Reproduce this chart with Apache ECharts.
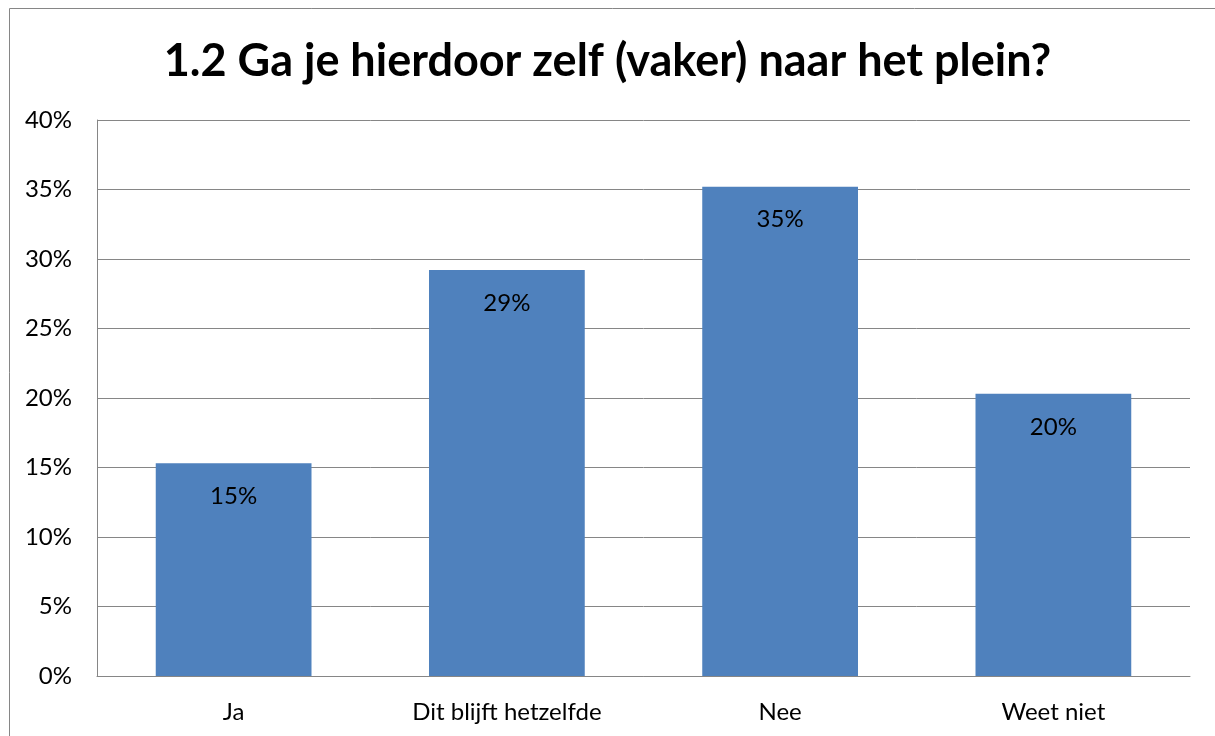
<!DOCTYPE html>
<html>
<head>
<meta charset="utf-8">
<script src="https://cdn.jsdelivr.net/npm/echarts@6/dist/echarts.min.js"></script>
<style>
html,body{margin:0;padding:0;background:#fff;}
#c{width:1215px;height:736px;}
</style>
</head>
<body>
<div id="c"></div>
<script>
const titleText = "1.2 Ga je hierdoor zelf (vaker) naar het plein?";
const categories = ["Ja", "Dit blijft hetzelfde", "Nee", "Weet niet"];
const values = [15.3, 29.2, 35.2, 20.3];
const yTicks = [0, 5, 10, 15, 20, 25, 30, 35, 40];

const chart = echarts.init(document.getElementById('c'), null, {renderer: 'canvas'});
const font = 'Lato, "Open Sans", sans-serif';
chart.setOption({
  animation: false,
  title: {
    text: titleText,
    left: 'center',
    top: 34,
    textStyle: {fontFamily: font, fontWeight: 'bold', fontSize: 45, color: '#000'}
  },
  graphic: [{
    type: 'rect',
    shape: {x: 9.5, y: 8.5, width: 1220, height: 740},
    style: {fill: 'none', stroke: '#868686', lineWidth: 1},
    silent: true
  }],
  grid: {left: 97, right: 25, top: 120, bottom: 60, containLabel: false},
  xAxis: {
    type: 'category',
    data: categories,
    axisLine: {show: true, lineStyle: {color: '#868686', width: 1}},
    axisTick: {show: false},
    axisLabel: {fontFamily: font, fontSize: 24, color: '#000', margin: 24}
  },
  yAxis: {
    type: 'value',
    min: yTicks[0],
    max: yTicks[yTicks.length - 1],
    interval: 5,
    axisLine: {show: true, lineStyle: {color: '#868686', width: 1}},
    axisTick: {show: false},
    splitLine: {show: true, lineStyle: {color: '#868686', width: 1}},
    axisLabel: {fontFamily: font, fontSize: 24, color: '#000', margin: 25, formatter: v => v + '%'}
  },
  series: [{
    type: 'bar',
    data: values,
    barWidth: '57%',
    itemStyle: {color: '#4f81bd'},
    label: {
      show: true,
      position: 'insideTop',
      distance: 21,
      fontFamily: font,
      fontSize: 24,
      color: '#000',
      formatter: p => Math.round(p.value) + '%'
    }
  }]
});
</script>
</body>
</html>
